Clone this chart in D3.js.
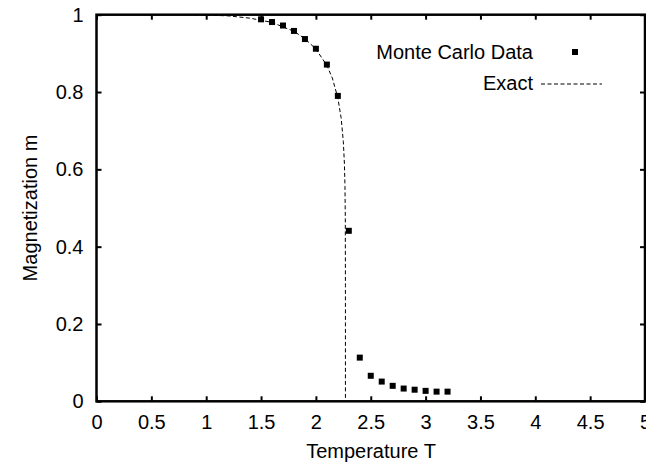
<!DOCTYPE html>
<html>
<head>
<meta charset="utf-8">
<script src="https://cdn.jsdelivr.net/npm/d3@7"></script>
<style>
  html, body { margin: 0; padding: 0; background: #fff; }
  svg { display: block; }
  text { font-family: "Liberation Sans", Arial, sans-serif; fill: #000; }
</style>
</head>
<body>
<script>
// ---- Data ----
const mcTemp = [1.5, 1.6, 1.7, 1.8, 1.9, 2.0, 2.1, 2.2, 2.3, 2.4, 2.5, 2.6, 2.7, 2.8, 2.9, 3.0, 3.1, 3.2];
const mcMag  = [0.988, 0.981, 0.972, 0.958, 0.937, 0.912, 0.871, 0.790, 0.441, 0.113, 0.066, 0.051, 0.040, 0.033, 0.030, 0.027, 0.025, 0.025];

const exactTemp = [0, 0.5, 0.8, 1.0, 1.2, 1.4, 1.6, 1.8, 1.9, 2.0, 2.1, 2.15, 2.2, 2.23, 2.25, 2.26, 2.265, 2.268, 2.2691, 2.2692];
const exactMag  = [1.0, 1.0, 1.0, 0.999, 0.997, 0.991, 0.980, 0.957, 0.938, 0.911, 0.869, 0.836, 0.785, 0.733, 0.672, 0.614, 0.556, 0.476, 0.30, 0.0];

const xTicks = [0, 0.5, 1, 1.5, 2, 2.5, 3, 3.5, 4, 4.5, 5];
const yTicks = [0, 0.2, 0.4, 0.6, 0.8, 1];

const xLabel = "Temperature T";
const yLabel = "Magnetization m";
const legendMC = "Monte Carlo Data";
const legendExact = "Exact";

// ---- Layout ----
const W = 646, H = 464;
const pL = 96.5, pR = 645, pT = 14.7, pB = 401.3;
const fontSize = 20;

const svg = d3.select("body").append("svg").attr("width", W).attr("height", H);

const x = d3.scaleLinear().domain([0, 5]).range([pL, pR]);
const y = d3.scaleLinear().domain([0, 1]).range([pB, pT]);

// exact curve
const line = d3.line().x(d => x(d[0])).y(d => y(d[1]));
svg.append("path")
  .datum(exactTemp.map((t, i) => [t, exactMag[i]]))
  .attr("d", line)
  .attr("fill", "none")
  .attr("stroke", "#000")
  .attr("stroke-width", 1)
  .attr("stroke-dasharray", "4,2.5");

// Monte Carlo points
const s = 6;
svg.append("g").selectAll("rect")
  .data(mcTemp.map((t, i) => [t, mcMag[i]]))
  .join("rect")
  .attr("x", d => x(d[0]) - s / 2)
  .attr("y", d => y(d[1]) - s / 2)
  .attr("width", s).attr("height", s)
  .attr("fill", "#000");

// Axes
function styleAxis(g) {
  g.select(".domain").remove();
  g.selectAll(".tick line").attr("stroke", "#000").attr("stroke-width", 2);
  g.selectAll(".tick text").attr("font-size", fontSize)
    .attr("font-family", '"Liberation Sans", Arial, sans-serif').attr("fill", "#000");
}
svg.append("g").attr("transform", `translate(0,${pB})`)
  .call(d3.axisBottom(x).tickValues(xTicks).tickFormat(d => String(d)).tickSizeInner(-5).tickSizeOuter(0).tickPadding(14))
  .call(styleAxis);
svg.append("g").attr("transform", `translate(0,${pT})`)
  .call(d3.axisTop(x).tickValues(xTicks).tickFormat("").tickSizeInner(-5).tickSizeOuter(0))
  .call(styleAxis);
svg.append("g").attr("transform", `translate(${pL},0)`)
  .call(d3.axisLeft(y).tickValues(yTicks).tickFormat(d => String(d)).tickSizeInner(-5).tickSizeOuter(0).tickPadding(13))
  .call(styleAxis);
svg.append("g").attr("transform", `translate(${pR},0)`)
  .call(d3.axisRight(y).tickValues(yTicks).tickFormat("").tickSizeInner(-5).tickSizeOuter(0))
  .call(styleAxis);

// frame
svg.append("rect")
  .attr("x", pL).attr("y", pT)
  .attr("width", pR - pL).attr("height", pB - pT)
  .attr("fill", "none").attr("stroke", "#000").attr("stroke-width", 2.5);

// axis titles
svg.append("text")
  .attr("x", 371).attr("y", 458)
  .attr("text-anchor", "middle").attr("font-size", fontSize)
  .text(xLabel);
svg.append("text")
  .attr("transform", `translate(37,${(pT + pB) / 2}) rotate(-90)`)
  .attr("text-anchor", "middle").attr("font-size", fontSize)
  .text(yLabel);

// legend
svg.append("text")
  .attr("x", 533).attr("y", 52).attr("dy", "0.35em")
  .attr("text-anchor", "end").attr("font-size", fontSize)
  .text(legendMC);
svg.append("rect")
  .attr("x", 575 - s / 2).attr("y", 52 - s / 2)
  .attr("width", s).attr("height", s).attr("fill", "#000");
svg.append("text")
  .attr("x", 533).attr("y", 83).attr("dy", "0.35em")
  .attr("text-anchor", "end").attr("font-size", fontSize)
  .text(legendExact);
svg.append("line")
  .attr("x1", 541).attr("x2", 602).attr("y1", 84).attr("y2", 84)
  .attr("stroke", "#000").attr("stroke-width", 1)
  .attr("stroke-dasharray", "4,2.5");
</script>
</body>
</html>
